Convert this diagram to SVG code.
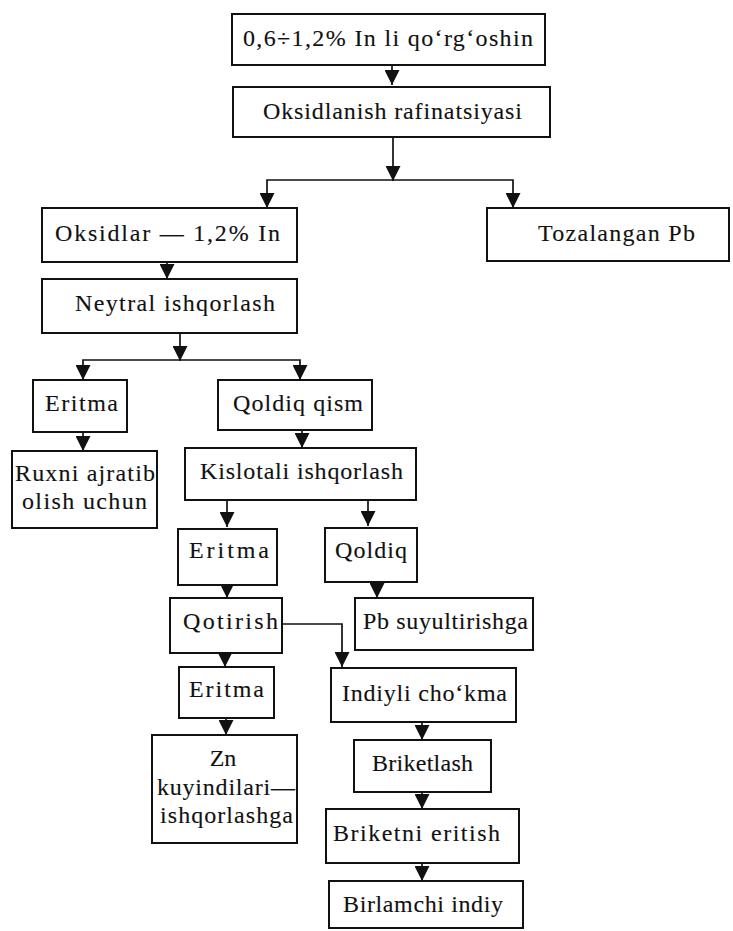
<svg xmlns="http://www.w3.org/2000/svg" width="733" height="931" viewBox="0 0 733 931">
<style>
.b{fill:#fff;stroke:#111;stroke-width:2}
.t{font-family:"Liberation Serif","Times New Roman",serif;font-size:24px;fill:#111;stroke:#111;stroke-width:0.12}
.c{fill:none;stroke:#111;stroke-width:1.7}
</style>
<defs>
<marker id="a" markerUnits="userSpaceOnUse" markerWidth="15" markerHeight="15" viewBox="0 0 15 15" refX="15" refY="7.5" orient="auto">
<path d="M0,0 L15,7.5 L0,15 Z" fill="#111"/>
</marker>
</defs>
<rect width="733" height="931" fill="#fff"/>
<g id="connectors">
<path class="c" d="M392,65 V85" marker-end="url(#a)"/>
<path class="c" d="M393,137 V181" marker-end="url(#a)"/>
<path class="c" d="M393,180 H267 V208" marker-end="url(#a)"/>
<path class="c" d="M393,180 H513 V208" marker-end="url(#a)"/>
<path class="c" d="M167,262 V279" marker-end="url(#a)"/>
<path class="c" d="M180,333 V361" marker-end="url(#a)"/>
<path class="c" d="M180,360 H83 V380" marker-end="url(#a)"/>
<path class="c" d="M180,360 H300 V380" marker-end="url(#a)"/>
<path class="c" d="M83,432 V451" marker-end="url(#a)"/>
<path class="c" d="M302,430 V448" marker-end="url(#a)"/>
<path class="c" d="M227,500 V527" marker-end="url(#a)"/>
<path class="c" d="M368,500 V526" marker-end="url(#a)"/>
<path class="c" d="M227,585 V598" marker-end="url(#a)"/>
<path class="c" d="M377,582 V598" marker-end="url(#a)"/>
<path class="c" d="M225,653 V667" marker-end="url(#a)"/>
<path class="c" d="M282,624 H342 V667" marker-end="url(#a)"/>
<path class="c" d="M226,718 V735" marker-end="url(#a)"/>
<path class="c" d="M422,722 V740" marker-end="url(#a)"/>
<path class="c" d="M422,792 V809" marker-end="url(#a)"/>
<path class="c" d="M422,863 V881" marker-end="url(#a)"/>
</g>
<g id="n1"><rect class="b" x="232" y="14" width="313" height="51"/><text class="t" x="243" y="46" textLength="290" lengthAdjust="spacing">0,6÷1,2% In li qo‘rg‘oshin</text></g>
<g id="n2"><rect class="b" x="233" y="87" width="317" height="50"/><text class="t" x="263" y="119" textLength="259" lengthAdjust="spacing">Oksidlanish rafinatsiyasi</text></g>
<g id="n3"><rect class="b" x="42" y="208" width="255" height="54"/><text class="t" x="55" y="241" textLength="225" lengthAdjust="spacing">Oksidlar — 1,2% In</text></g>
<g id="n4"><rect class="b" x="487" y="208" width="242" height="53"/><text class="t" x="538" y="241" textLength="157" lengthAdjust="spacing">Tozalangan Pb</text></g>
<g id="n5"><rect class="b" x="42" y="279" width="255" height="54"/><text class="t" x="75" y="311" textLength="200" lengthAdjust="spacing">Neytral ishqorlash</text></g>
<g id="n6"><rect class="b" x="33" y="380" width="94" height="52"/><text class="t" x="45" y="411" textLength="73" lengthAdjust="spacing">Eritma</text></g>
<g id="n7"><rect class="b" x="218" y="380" width="154" height="50"/><text class="t" x="233" y="411" textLength="130" lengthAdjust="spacing">Qoldiq qism</text></g>
<g id="n8"><rect class="b" x="12" y="451" width="145" height="77"/><text class="t" x="15" y="481" textLength="140" lengthAdjust="spacing">Ruxni ajratib</text><text class="t" x="22" y="509" textLength="125" lengthAdjust="spacing">olish uchun</text></g>
<g id="n9"><rect class="b" x="185" y="448" width="231" height="52"/><text class="t" x="200" y="479" textLength="203" lengthAdjust="spacing">Kislotali ishqorlash</text></g>
<g id="n10"><rect class="b" x="178" y="529" width="99" height="56"/><text class="t" x="189" y="558" textLength="80" lengthAdjust="spacing">Eritma</text></g>
<g id="n11"><rect class="b" x="325" y="528" width="92" height="54"/><text class="t" x="335" y="558" textLength="72" lengthAdjust="spacing">Qoldiq</text></g>
<g id="n12"><rect class="b" x="170" y="598" width="112" height="55"/><text class="t" x="183" y="629" textLength="95" lengthAdjust="spacing">Qotirish</text></g>
<g id="n13"><rect class="b" x="355" y="598" width="178" height="52"/><text class="t" x="363" y="629" textLength="165" lengthAdjust="spacing">Pb suyultirishga</text></g>
<g id="n14"><rect class="b" x="179" y="667" width="95" height="51"/><text class="t" x="189" y="697" textLength="75" lengthAdjust="spacing">Eritma</text></g>
<g id="n15"><rect class="b" x="331" y="668" width="185" height="54"/><text class="t" x="342" y="701" textLength="165" lengthAdjust="spacing">Indiyli cho‘kma</text></g>
<g id="n16"><rect class="b" x="152" y="735" width="145" height="108"/><text class="t" x="223" y="766" text-anchor="middle">Zn</text><text class="t" x="157" y="795" textLength="138" lengthAdjust="spacing">kuyindilari—</text><text class="t" x="160" y="823" textLength="133" lengthAdjust="spacing">ishqorlashga</text></g>
<g id="n17"><rect class="b" x="354" y="740" width="137" height="52"/><text class="t" x="372" y="771" textLength="101" lengthAdjust="spacing">Briketlash</text></g>
<g id="n18"><rect class="b" x="326" y="809" width="193" height="54"/><text class="t" x="333" y="841" textLength="167" lengthAdjust="spacing">Briketni eritish</text></g>
<g id="n19"><rect class="b" x="329" y="881" width="194" height="47"/><text class="t" x="343" y="912" textLength="160" lengthAdjust="spacing">Birlamchi indiy</text></g>
</svg>
